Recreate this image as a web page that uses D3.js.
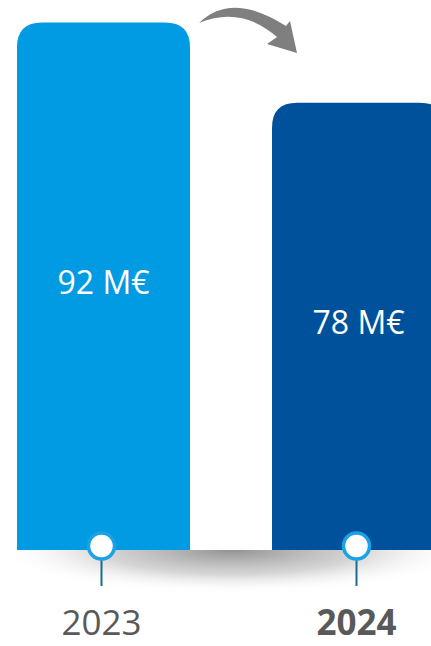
<!DOCTYPE html>
<html>
<head>
<meta charset="utf-8">
<script src="https://cdn.jsdelivr.net/npm/d3@7"></script>
<style>
  html, body { margin: 0; padding: 0; background: #fff; }
  svg { display: block; font-family: 'Open Sans', sans-serif; }
</style>
</head>
<body>
<div id="vis"></div>
<script>
var width = 431,
  height = 646;

// data
var years = [ '2023', '2024' ];
var values = [ 92, 78 ];
var labels = [ '92 M€', '78 M€' ];
var barColors = [ '#009be3', '#00519c' ];

var data = years.map( ( y, i ) => ( { year: y, value: values[ i ], label: labels[ i ], color: barColors[ i ] } ) );

var baseY = 550,
  radius = 25;

/* Scales */

var x = d3.scaleBand()
  .domain( years )
  .range( [ 17, 445 ] )
  .paddingInner( 0.3216 )
  .paddingOuter( 0 );

var y = d3.scaleLinear()
  .domain( [ 0, 92 ] )
  .range( [ baseY, 22.5 ] );

var svg = d3.select( '#vis' ).append( 'svg' )
  .attr( 'width', width )
  .attr( 'height', height );

var defs = svg.append( 'defs' );

var grad = defs.append( 'radialGradient' )
  .attr( 'id', 'shadow' );
grad.append( 'stop' ).attr( 'offset', '0%' ).attr( 'stop-color', '#8c8c8c' ).attr( 'stop-opacity', 0.95 );
grad.append( 'stop' ).attr( 'offset', '55%' ).attr( 'stop-color', '#c4c4c4' ).attr( 'stop-opacity', 0.7 );
grad.append( 'stop' ).attr( 'offset', '100%' ).attr( 'stop-color', '#ffffff' ).attr( 'stop-opacity', 0 );

defs.append( 'clipPath' )
  .attr( 'id', 'below' )
  .append( 'rect' )
    .attr( 'x', 0 )
    .attr( 'y', baseY )
    .attr( 'width', width )
    .attr( 'height', 60 );

// shadow under the bars
svg.append( 'ellipse' )
  .attr( 'cx', 232 )
  .attr( 'cy', baseY )
  .attr( 'rx', 235 )
  .attr( 'ry', 44 )
  .attr( 'fill', 'url(#shadow)' )
  .attr( 'clip-path', 'url(#below)' );

// bars with rounded tops
function barPath( d ) {
  var x0 = x( d.year ),
    x1 = x0 + x.bandwidth(),
    y0 = y( d.value ),
    r = radius;
  return 'M' + x0 + ',' + baseY +
    'V' + ( y0 + r ) +
    'Q' + x0 + ',' + y0 + ' ' + ( x0 + r ) + ',' + y0 +
    'H' + ( x1 - r ) +
    'Q' + x1 + ',' + y0 + ' ' + x1 + ',' + ( y0 + r ) +
    'V' + baseY + 'Z';
}

svg.selectAll( 'path.bar' )
  .data( data )
  .enter().append( 'path' )
    .attr( 'class', 'bar' )
    .attr( 'd', barPath )
    .attr( 'fill', d => d.color );

svg.selectAll( 'text.value' )
  .data( data )
  .enter().append( 'text' )
    .attr( 'class', 'value' )
    .attr( 'x', d => x( d.year ) + x.bandwidth() / 2 )
    .attr( 'y', d => ( y( d.value ) + baseY ) / 2 + 8 )
    .attr( 'text-anchor', 'middle' )
    .attr( 'fill', '#fff' )
    .style( 'font-size', '32px' )
    .text( d => d.label );

// ticks
svg.selectAll( 'line.tick' )
  .data( data )
  .enter().append( 'line' )
    .attr( 'class', 'tick' )
    .attr( 'x1', d => x( d.year ) + x.bandwidth() / 2 - 2 )
    .attr( 'x2', d => x( d.year ) + x.bandwidth() / 2 - 2 )
    .attr( 'y1', baseY + 8 )
    .attr( 'y2', baseY + 36 )
    .attr( 'stroke', '#1d6b8e' )
    .attr( 'stroke-width', 2 );

svg.selectAll( 'circle.tick' )
  .data( data )
  .enter().append( 'circle' )
    .attr( 'class', 'tick' )
    .attr( 'cx', d => x( d.year ) + x.bandwidth() / 2 - 2 )
    .attr( 'cy', baseY - 4 )
    .attr( 'r', 13 )
    .attr( 'fill', '#fff' )
    .attr( 'stroke', '#1ba1e6' )
    .attr( 'stroke-width', 3.5 );

svg.selectAll( 'text.year' )
  .data( data )
  .enter().append( 'text' )
    .attr( 'class', 'year' )
    .attr( 'x', d => x( d.year ) + x.bandwidth() / 2 - 2 )
    .attr( 'y', 635 )
    .attr( 'text-anchor', 'middle' )
    .attr( 'fill', '#595959' )
    .style( 'font-size', '35px' )
    .style( 'font-weight', ( d, i ) => i === data.length - 1 ? 700 : 400 )
    .text( d => d.year );

// curved arrow between the bars
svg.append( 'path' )
  .attr( 'd', 'M199,23Q231.5,-9 286,26L290,21L297,53L267,44L277,37Q241,5.5 199,23Z' )
  .attr( 'fill', '#7f7f7f' );
</script>
</body>
</html>
